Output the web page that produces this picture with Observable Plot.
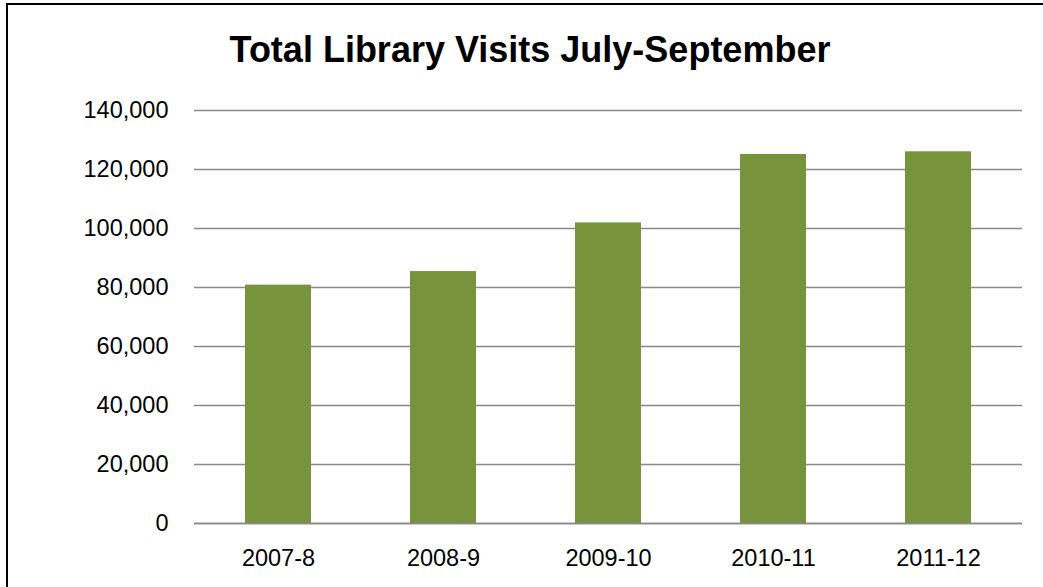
<!DOCTYPE html>
<html>
<head>
<meta charset="utf-8">
<script src="https://cdn.jsdelivr.net/npm/d3@7"></script>
<script src="https://cdn.jsdelivr.net/npm/@observablehq/plot@0.6"></script>
<style>
  html, body { margin: 0; padding: 0; background: #fff; }
  body { width: 1043px; height: 587px; position: relative; overflow: hidden; }
  #frame { position: absolute; left: 6px; top: 3px; width: 1100px; height: 700px; z-index: 5;
           border-left: 2px solid #000; border-top: 2px solid #000; pointer-events: none; }
  #title { position: absolute; left: 0; width: 1060px; top: 32px; text-align: center;
           font-family: "Liberation Sans", Arial, sans-serif; font-weight: bold;
           font-size: 36px; line-height: 36px; color: #000; white-space: nowrap; }
  #chart { position: absolute; left: 0; top: 80px; }
</style>
</head>
<body>
<div id="frame"></div>
<div id="title">Total Library Visits July-September</div>
<div id="chart"></div>
<script>
const years = ["2007-8", "2008-9", "2009-10", "2010-11", "2011-12"];
const visits = [80800, 85400, 101900, 125100, 126000];
const yTicks = [0, 20000, 40000, 60000, 80000, 100000, 120000, 140000];

const data = years.map((year, i) => ({year, visits: visits[i]}));

const chart = Plot.plot({
  width: 1043,
  height: 507,
  marginTop: 30,
  marginBottom: 64,
  marginLeft: 194,
  marginRight: 21,
  style: {background: "transparent", fontFamily: "'Liberation Sans', Arial, sans-serif", fontSize: "23.5px", color: "#000"},
  x: {domain: years, paddingInner: 0.6, paddingOuter: 0.3, label: null},
  y: {domain: [0, 140000], label: null},
  marks: [
    Plot.gridY(yTicks, {stroke: "#898989", strokeOpacity: 1, strokeWidth: 1.6}),
    Plot.barY(data, {x: "year", y: "visits", fill: "#77933c"}),
    Plot.ruleY([0], {stroke: "#898989", strokeWidth: 1.6}),
    Plot.axisX({tickSize: 0, tickPadding: 26, label: null, fill: "#000"}),
    Plot.axisY(yTicks, {tickSize: 0, tickPadding: 26, tickFormat: d3.format(","), label: null, fill: "#000"})
  ]
});
document.getElementById("chart").appendChild(chart);
</script>
</body>
</html>
